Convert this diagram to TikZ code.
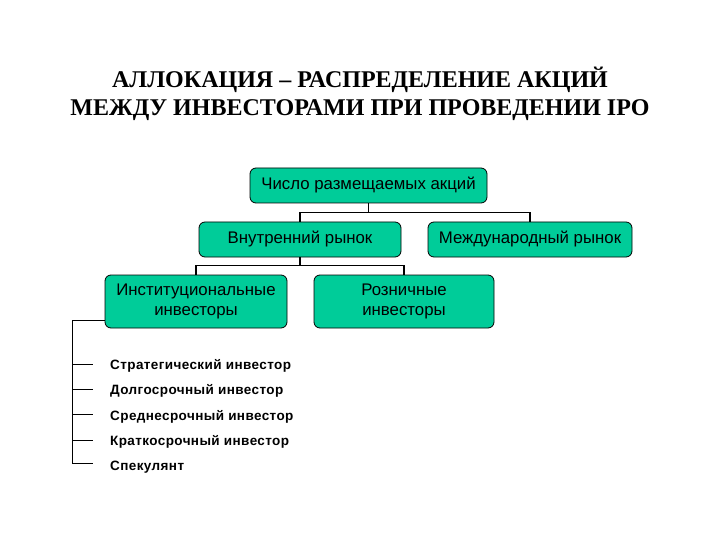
\documentclass[tikz,border=0pt]{standalone}
\usepackage{fontspec}
\setmainfont{Liberation Serif}
\newfontfamily\arialf{Liberation Sans}
\newfontfamily\arialsp[LetterSpace=3]{Liberation Sans}
\definecolor{boxgreen}{HTML}{00CC99}
\tikzset{
  gbox/.style={draw=black, line width=0.8pt, fill=boxgreen, rounded corners=6pt, inner sep=0pt, align=center, font=\arialf\fontsize{16.8}{19.5}\selectfont},
  conn/.style={draw=black, line width=1.6pt},
  thin/.style={draw=black, line width=0.8pt},
  item/.style={anchor=west, inner sep=0pt, font=\arialsp\bfseries\fontsize{13.5}{15}\selectfont}
}
\begin{document}
\begin{tikzpicture}[x=1pt,y=-1pt]
\useasboundingbox (0,0) rectangle (720,540);
\node[align=center, font=\bfseries\fontsize{24}{27.5}\selectfont] (title) at (360,94) {АЛЛОКАЦИЯ – РАСПРЕДЕЛЕНИЕ АКЦИЙ\\МЕЖДУ ИНВЕСТОРАМИ ПРИ ПРОВЕДЕНИИ IPO};

\node[gbox, minimum width=237pt, minimum height=35pt] (top) at (368.5,185.5) {Число размещаемых акций};
\node[gbox, minimum width=202pt, minimum height=35pt] (dom) at (300,239.5) {Внутренний рынок};
\node[gbox, minimum width=204pt, minimum height=35pt] (intl) at (530,239.5) {Международный рынок};
\node[gbox, minimum width=182pt, minimum height=53pt] (inst) at (196,301.5) {Институциональные\\инвесторы};
\node[gbox, minimum width=180pt, minimum height=53pt] (ret) at (404,301.5) {Розничные\\инвесторы};

\draw[conn] (top.south) -- ++(0,9) -| (dom.north);
\draw[conn] (top.south) ++(0,9) -| (intl.north);
\draw[conn] (dom.south) -- ++(0,8) -| (inst.north);
\draw[conn] (dom.south) ++(0,8) -| (ret.north);

\coordinate (vtop) at (72,320.5);
\coordinate (vbot) at (72,463);
\draw[thin] (inst.west |- vtop) -- (vtop) -- (vbot);

\node[item] (i1) at (110,366) {Стратегический инвестор};
\node[item] (i2) at (110,391) {Долгосрочный инвестор};
\node[item] (i3) at (110,416.5) {Среднесрочный инвестор};
\node[item] (i4) at (110,442) {Краткосрочный инвестор};
\node[item] (i5) at (110,467) {Спекулянт};

\foreach \n in {i1,i2,i3,i4} {
  \draw[thin] (72,0 |- \n.west) ++(0,-2) -- ++(21,0);
}
\draw[thin] (vbot) -- ++(21,0);
\end{tikzpicture}
\end{document}
